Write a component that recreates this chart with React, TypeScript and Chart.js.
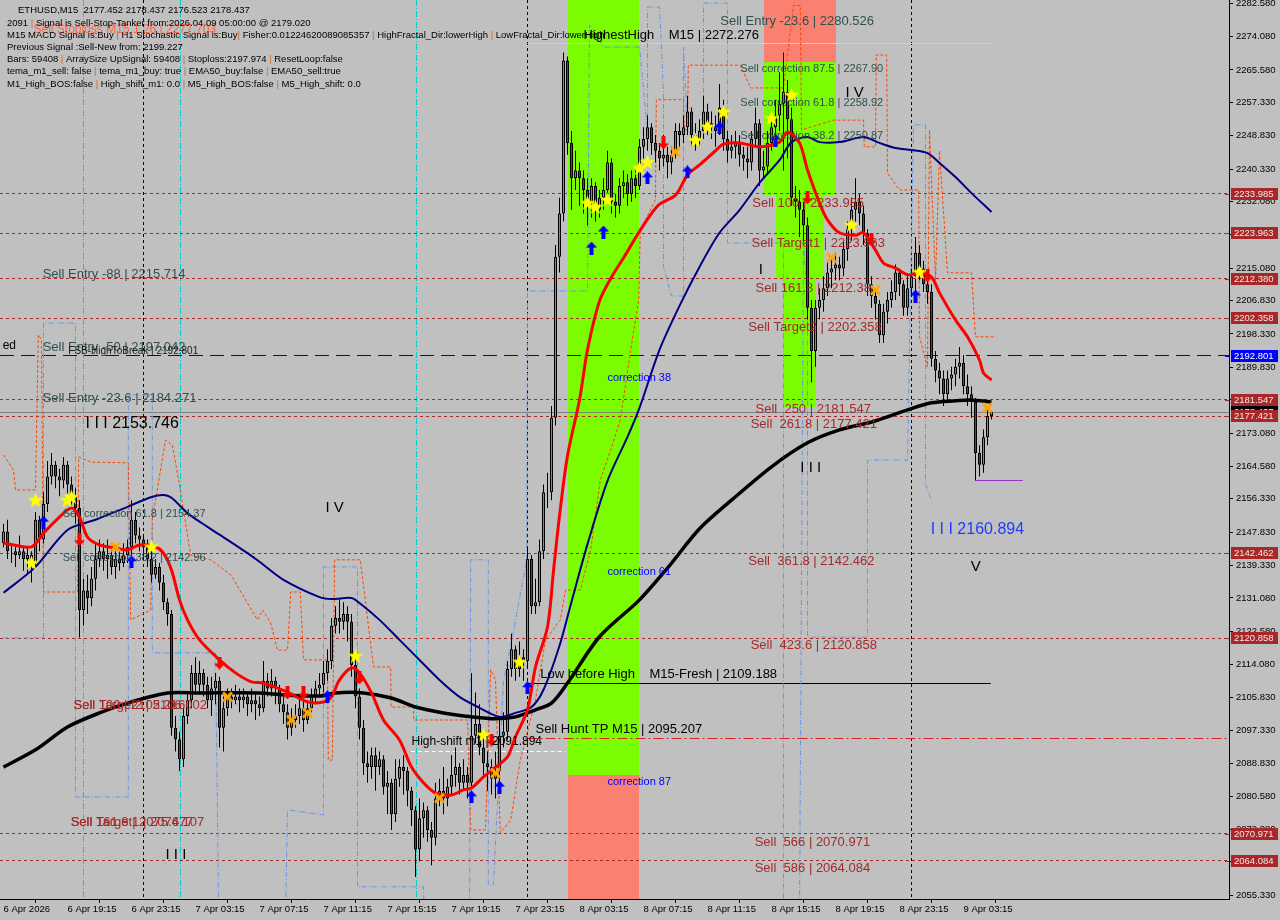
import React, { useEffect, useRef } from 'react';
import { Chart, registerables } from 'chart.js';

Chart.register(...registerables);

// ---------- DATA ----------
const timeLabels = ['6 Apr 2026', '6 Apr 19:15', '6 Apr 23:15', '7 Apr 03:15', '7 Apr 07:15', '7 Apr 11:15', '7 Apr 15:15', '7 Apr 19:15', '7 Apr 23:15', '8 Apr 03:15', '8 Apr 07:15', '8 Apr 11:15', '8 Apr 15:15', '8 Apr 19:15', '8 Apr 23:15', '9 Apr 03:15'];
const timeTickBars = [0, 16, 32, 48, 64, 80, 96, 112, 128, 144, 160, 176, 192, 208, 224, 240];
const priceTicks = [2282.58, 2274.08, 2265.58, 2257.33, 2248.83, 2240.33, 2232.08, 2223.58, 2215.08, 2206.83, 2198.33, 2189.83, 2181.58, 2173.08, 2164.58, 2156.33, 2147.83, 2139.33, 2131.08, 2122.58, 2114.08, 2105.83, 2097.33, 2088.83, 2080.58, 2072.08, 2063.83, 2055.33];

const firstOpen = 2145;
const closes = [
  2148, 2143, 2143, 2142, 2143, 2141, 2142, 2140, 2151, 2146,
  2155, 2162, 2165, 2162, 2161, 2165, 2160, 2157, 2154, 2128,
  2133, 2131, 2136, 2141, 2143, 2141, 2142, 2139, 2141, 2140,
  2142, 2144, 2151, 2147, 2146, 2144, 2141, 2137, 2139, 2135,
  2130, 2127, 2098, 2095, 2090, 2101, 2105, 2112, 2109, 2112,
  2109, 2105, 2108, 2110, 2098, 2103, 2106, 2105, 2106, 2105,
  2106, 2104, 2105, 2104, 2103, 2110, 2108, 2110, 2108, 2104,
  2102, 2098, 2100, 2101, 2103, 2100, 2103, 2106, 2108, 2109,
  2112, 2115, 2124, 2126, 2125, 2127, 2125, 2114, 2106, 2098,
  2089, 2088, 2091, 2088, 2090, 2083, 2084, 2076, 2085, 2088,
  2087, 2082, 2077, 2067, 2075, 2077, 2072, 2070, 2080, 2082,
  2080, 2083, 2086, 2088, 2084, 2086, 2084, 2096, 2099, 2093,
  2089, 2088, 2085, 2087, 2096, 2097, 2113, 2118, 2113, 2116,
  2115, 2141, 2129, 2130, 2143, 2158, 2158, 2177, 2218, 2229,
  2268, 2247, 2238, 2240, 2238, 2235, 2232, 2236, 2230, 2233,
  2235, 2242, 2232, 2231, 2236, 2237, 2234, 2238, 2236, 2246,
  2248, 2251, 2247, 2245, 2243, 2244, 2242, 2244, 2250, 2249,
  2251, 2255, 2249, 2248, 2250, 2255, 2252, 2251, 2250, 2256,
  2248, 2245, 2246, 2247, 2244, 2243, 2242, 2248, 2252, 2240,
  2241, 2247, 2251, 2254, 2257, 2260, 2253, 2233, 2232, 2230,
  2226, 2205, 2194, 2205, 2207, 2210, 2214, 2215, 2216, 2215,
  2220, 2225, 2230, 2232, 2229, 2224, 2211, 2208, 2206, 2198,
  2204, 2207, 2209, 2214, 2211, 2205, 2210, 2213, 2219, 2215,
  2211, 2209, 2192, 2189, 2187, 2183, 2187, 2188, 2190, 2191,
  2185, 2183, 2181, 2168, 2165, 2172, 2177.452, 2178.437
];
const highs = [
  2150, 2151, 2145, 2144, 2147, 2144, 2144, 2143, 2153, 2152,
  2158, 2166, 2168, 2166, 2164, 2167, 2166, 2162, 2159, 2156,
  2136, 2137, 2139, 2145, 2146, 2145, 2146, 2144, 2143, 2143,
  2145, 2146, 2156, 2153, 2149, 2147, 2146, 2143, 2141, 2140,
  2137, 2131, 2128, 2101, 2097, 2103, 2107, 2114, 2116, 2115,
  2113, 2111, 2111, 2112, 2111, 2106, 2108, 2108, 2109, 2108,
  2108, 2107, 2108, 2107, 2106, 2115, 2112, 2113, 2111, 2109,
  2106, 2104, 2103, 2104, 2106, 2105, 2105, 2108, 2110, 2112,
  2115, 2118, 2126, 2129, 2131, 2130, 2129, 2127, 2116, 2108,
  2100, 2092, 2093, 2093, 2092, 2091, 2087, 2085, 2090, 2090,
  2091, 2088, 2083, 2078, 2080, 2079, 2078, 2074, 2084, 2085,
  2088, 2085, 2091, 2093, 2089, 2090, 2088, 2112, 2107, 2104,
  2097, 2092, 2090, 2092, 2100, 2102, 2115, 2122, 2119, 2120,
  2118, 2144, 2142, 2136, 2146, 2160, 2163, 2180, 2221, 2233,
  2270, 2269, 2250, 2245, 2242, 2240, 2238, 2238, 2237, 2235,
  2238, 2245, 2243, 2234, 2238, 2240, 2239, 2240, 2240, 2248,
  2251, 2254, 2252, 2249, 2247, 2249, 2246, 2246, 2252, 2252,
  2254, 2259, 2256, 2252, 2253, 2259, 2257, 2255, 2254, 2262,
  2258, 2250, 2249, 2250, 2249, 2246, 2246, 2250, 2256, 2253,
  2245, 2250, 2254, 2258, 2265, 2270, 2263, 2256, 2236, 2235,
  2232, 2228, 2207, 2207, 2210, 2213, 2217, 2218, 2219, 2218,
  2222, 2227, 2233, 2238, 2234, 2231, 2225, 2213, 2210, 2207,
  2206, 2209, 2212, 2216, 2215, 2212, 2213, 2215, 2223, 2221,
  2217, 2213, 2211, 2194, 2191, 2189, 2189, 2190, 2192, 2195,
  2193, 2188, 2185, 2182, 2170, 2174, 2179, 2178.437
];
const lows = [
  2144, 2141, 2140, 2139, 2141, 2138, 2137, 2135, 2139, 2143,
  2145, 2153, 2160, 2159, 2157, 2159, 2157, 2154, 2150, 2121,
  2124, 2127, 2129, 2133, 2139, 2138, 2136, 2137, 2136, 2138,
  2139, 2140, 2142, 2145, 2143, 2141, 2139, 2135, 2136, 2133,
  2128, 2124, 2096, 2092, 2087, 2088, 2099, 2103, 2107, 2107,
  2106, 2103, 2101, 2104, 2093, 2092, 2101, 2103, 2104, 2102,
  2103, 2101, 2102, 2100, 2101, 2102, 2106, 2106, 2104, 2102,
  2099, 2095, 2096, 2098, 2099, 2097, 2099, 2102, 2104, 2106,
  2107, 2110, 2113, 2122, 2122, 2123, 2120, 2111, 2103, 2095,
  2086, 2084, 2085, 2082, 2086, 2081, 2076, 2072, 2074, 2083,
  2081, 2078, 2073, 2060, 2064, 2070, 2069, 2063, 2068, 2078,
  2076, 2078, 2081, 2083, 2081, 2082, 2080, 2083, 2094, 2091,
  2086, 2082, 2081, 2080, 2084, 2093, 2095, 2111, 2110, 2111,
  2110, 2113, 2127, 2127, 2129, 2141, 2154, 2156, 2175, 2214,
  2227, 2244, 2230, 2235, 2231, 2229, 2226, 2228, 2227, 2228,
  2230, 2233, 2229, 2228, 2229, 2233, 2231, 2232, 2233, 2235,
  2243, 2245, 2244, 2242, 2240, 2241, 2238, 2239, 2243, 2246,
  2247, 2249, 2246, 2245, 2246, 2248, 2249, 2248, 2246, 2249,
  2245, 2242, 2243, 2243, 2241, 2240, 2238, 2240, 2246, 2236,
  2238, 2239, 2245, 2249, 2250, 2240, 2243, 2231, 2228, 2223,
  2222, 2202, 2186, 2190, 2202, 2204, 2208, 2210, 2212, 2212,
  2213, 2217, 2222, 2227, 2226, 2221, 2208, 2205, 2202, 2196,
  2196, 2201, 2205, 2207, 2208, 2203, 2203, 2208, 2209, 2212,
  2209, 2206, 2190, 2186, 2183, 2180, 2181, 2184, 2185, 2187,
  2183, 2180, 2177, 2161, 2162, 2163, 2170, 2176.523
];

// indicator lines: [bar, price]
const emaFast = [[0, 2145.1], [7, 2144.1], [10, 2147.6], [14, 2151.7], [17, 2154.0], [19, 2151.7], [21, 2146.6], [24, 2144.6], [28, 2143.8], [31, 2143.3], [34, 2144.6], [38, 2144.1], [40, 2142.5], [42, 2138.2], [44, 2130.6], [46, 2125.5], [49, 2120.4], [54, 2115.3], [58, 2112.0], [62, 2109.7], [65, 2109.4], [71, 2107.1], [76, 2104.6], [80, 2104.6], [82, 2105.9], [84, 2110.2], [87, 2113.3], [89, 2112.0], [92, 2106.9], [95, 2100.0], [99, 2094.9], [102, 2088.0], [105, 2084.0], [108, 2081.4], [112, 2080.9], [115, 2082.2], [117, 2082.7], [120, 2085.5], [123, 2088.0], [126, 2090.6], [128, 2095.7], [131, 2102.6], [133, 2113.5], [136, 2123.7], [137.5, 2138.0], [139, 2152.0], [141, 2167.3], [144, 2181.5], [146, 2194.3], [149, 2206.7], [152, 2212.8], [155, 2217.7], [158, 2222.8], [161, 2227.6], [164, 2231.4], [168, 2233.7], [171, 2238.8], [174, 2241.4], [178, 2245.0], [180, 2246.7], [184, 2247.0], [189, 2246.0], [194, 2247.2], [196, 2249.8], [199, 2247.0], [201, 2240.1], [204, 2231.7], [206, 2227.4], [209, 2224.1], [213, 2223.5], [215, 2224.1], [218, 2219.7], [220, 2216.4], [223, 2215.1], [226, 2213.4], [229, 2213.9], [232, 2212.8], [234, 2208.8], [238, 2201.9], [241, 2197.6], [244, 2191.7], [245, 2188.4], [247, 2186.6]];
const emaMid = [[0, 2132.4], [8, 2139.0], [16, 2148.4], [23, 2151.0], [31, 2154.3], [37, 2156.8], [40, 2157.3], [42, 2156.6], [46, 2152.7], [51, 2149.2], [56, 2145.9], [61, 2142.5], [64, 2140.3], [70, 2135.7], [79, 2131.3], [82, 2130.8], [87, 2131.1], [89, 2129.8], [94, 2125.5], [99, 2120.4], [104, 2115.3], [109, 2110.2], [114, 2105.9], [119, 2103.1], [124, 2100.8], [128, 2101.8], [132, 2103.3], [135, 2107.7], [139, 2118.9], [142, 2130.1], [146, 2144.8], [151, 2160.9], [156, 2172.1], [159, 2179.5], [164, 2194.3], [169, 2205.5], [174, 2215.4], [179, 2224.1], [184, 2229.9], [189, 2236.8], [194, 2242.6], [197, 2247.2], [201, 2248.5], [204, 2247.2], [209, 2247.2], [215, 2248.5], [219, 2247.0], [223, 2245.7], [227, 2245.2], [231, 2244.4], [234, 2241.9], [238, 2238.3], [242, 2234.2], [247, 2229.4]];
const emaSlow = [[0, 2088.0], [8, 2092.4], [16, 2098.2], [24, 2101.8], [32, 2104.6], [41, 2106.9], [49, 2106.9], [64, 2106.9], [70, 2106.4], [79, 2106.1], [83, 2106.9], [90, 2106.9], [97, 2105.6], [103, 2103.3], [110, 2101.8], [117, 2100.8], [123, 2100.3], [128, 2100.8], [133, 2102.6], [137, 2104.3], [141, 2109.4], [149, 2121.2], [159, 2130.6], [166, 2138.7], [174, 2148.7], [182, 2156.0], [192, 2164.5], [201, 2170.6], [209, 2173.9], [217, 2175.9], [226, 2179.0], [232, 2180.8], [238, 2181.3], [242, 2181.5], [247, 2181.0]];
const orangeBand = [[0, 2167.5], [2.5, 2163.7], [3, 2158.6], [8, 2158.6], [8.7, 2198.1], [9.5, 2196.8], [10, 2132.6], [18.5, 2132.6], [18.8, 2167.0], [21.8, 2165.7], [31.2, 2165.5], [31.8, 2125.5], [36.8, 2128.0], [37.2, 2151.0], [40.5, 2171.3], [42.2, 2170.1], [43.8, 2161.1], [46.8, 2142.0], [51.8, 2140.8], [56.8, 2137.0], [63.5, 2125.5], [64.8, 2128.0], [66.8, 2124.7], [68.5, 2117.8], [71, 2117.8], [71.8, 2132.6], [74.2, 2132.6], [75, 2115.3], [81, 2115.3], [81.2, 2089.8], [82.2, 2089.8], [82.8, 2140.8], [89.2, 2140.8], [92.5, 2113.5], [96.8, 2113.5], [96.9, 2103.3], [102.5, 2103.3], [102.6, 2100.0], [116, 2100.0], [116.8, 2072.0], [120.5, 2072.0], [121.8, 2112.8], [123, 2110.2], [124.2, 2071.2], [126.8, 2074.5], [129.2, 2089.8], [133, 2105.1], [135.5, 2120.4], [139.2, 2125.5], [140.5, 2133.1], [144.2, 2133.1], [146.8, 2143.3], [149.2, 2161.1], [151.8, 2168.8], [154.2, 2176.4], [156.8, 2194.3], [158.8, 2207.0], [159.2, 2224.8], [163, 2232.5], [163.2, 2258.0], [170, 2258.0], [170.2, 2250.3], [171, 2250.3], [171.2, 2266.8], [184.2, 2266.8], [186.8, 2261.0], [195, 2261.0], [197.5, 2282.0], [199.2, 2282.0], [199.5, 2250.3], [207.5, 2252.8], [215, 2252.8], [215.2, 2246.0], [218, 2246.0], [218.2, 2269.4], [220.8, 2269.4], [221, 2239.3], [224, 2235.0], [228.8, 2235.0], [229, 2197.6], [231, 2189.9], [231.5, 2250.3], [233, 2212.0], [234, 2245.0], [236, 2213.9], [242, 2213.9], [243, 2197.6], [247.5, 2197.6]];
const blueBand = [[0, 2120.9], [10, 2120.9], [10, 2201.1], [18, 2201.1], [18, 2080.4], [31.2, 2080.4], [31.2, 2182.8], [37.2, 2182.8], [37.2, 2117.1], [53, 2117.1], [53.8, 2050], [70.5, 2050], [71, 2077.1], [80, 2075.8], [80, 2139.0], [88.5, 2139.0], [88.5, 2057.5], [105, 2057.5], [105.2, 2050], [116.5, 2050], [116.8, 2140.8], [121.2, 2140.8], [121.2, 2058], [122.5, 2058], [125, 2110], [127, 2120], [130.8, 2140.8], [131, 2209.3], [146, 2209.3], [146.5, 2277.0], [150, 2271.4], [159, 2271.4], [161, 2250.3], [161, 2281.6], [164, 2281.6], [165, 2260.0], [165, 2215.4], [167, 2208.0], [170, 2208.0], [170, 2271.4], [171, 2250.3], [175, 2250.3], [175, 2282.6], [181, 2282.6], [181, 2221.5], [195, 2221.5], [195, 2050], [199, 2050], [200, 2221.5], [201, 2208], [201, 2121.1], [216, 2121.1], [216, 2166.2], [226, 2166.2], [227.5, 2251.6], [230.5, 2251.6], [230.5, 2160], [232, 2156]];

// signal markers: [bar, price]
const starMarks = [[8, 2156.0], [7, 2140.0], [17, 2156.8], [16, 2156.0], [37, 2144.1], [88, 2116.3], [129, 2114.8], [120, 2096.2], [146, 2231.7], [148, 2230.7], [151, 2232.5], [159, 2240.6], [161, 2242.1], [173, 2247.7], [176, 2251.1], [180, 2254.9], [192, 2253.3], [197, 2259.2], [212, 2226.1], [229, 2214.1]];
const upArrowMarks = [[10, 2150.4], [32, 2140.3], [81, 2105.9], [117, 2080.4], [124, 2082.9], [131, 2108.2], [147, 2220.2], [150, 2224.3], [161, 2238.1], [171, 2239.6], [179, 2250.8], [193, 2247.7], [228, 2208.0]];
const downArrowMarks = [[19, 2145.9], [54, 2114.5], [71, 2106.9], [75, 2106.9], [89, 2110.7], [122, 2094.9], [165, 2247.0], [201, 2233.0], [217, 2222.3], [231, 2213.1]];
const crossMarks = [[28, 2144.1], [56, 2105.9], [72, 2100.0], [76, 2101.8], [109, 2080.1], [123, 2086.5], [168, 2244.7], [207, 2217.7], [218, 2209.5], [246, 2179.5]];

// horizontal levels
const sellLevels = [2233.985, 2223.963, 2212.380, 2202.358, 2181.547, 2177.421, 2142.462, 2120.858, 2070.971, 2064.084];
const fsbLevel = 2192.801;
const lastPrice = 2178.437;
const lowBeforeHigh = 2109.188;
const huntTP = 2095.207;
const highShift = 2091.894;
const highestHigh = 2272.276;
const wave3Level = 2160.894;
const daySeparators = [35, 131, 227];
const cyanMarkers = [20, 44.25, 103.25];

// ---------- STYLE / LAYOUT CONFIG ----------
const FONT = "'Liberation Sans', Arial, sans-serif";
const SLATE = '#2F4F4F';
const BROWN = '#A52A2A';
const zones = [
  { b0: 141, b1: 158.75, p0: 2086.0, p1: 2290, color: '#7CFC00' },
  { b0: 141, b1: 158.75, p0: 2050, p1: 2086.0, color: '#FA8072' },
  { b0: 190, b1: 208, p0: 2267.6, p1: 2290, color: '#FA8072' },
  { b0: 190, b1: 208, p0: 2233.7, p1: 2267.6, color: '#7CFC00' },
  { b0: 193, b1: 205, p0: 2212.1, p1: 2233.7, color: '#7CFC00' },
  { b0: 195, b1: 203, p0: 2179.7, p1: 2212.1, color: '#7CFC00' },
];
const texts = [
  { b: 7.5, p: 2275.8, t: 'Sell Stoploss M15 1.26 | 2277.703', c: '#FF6347', s: 12 },
  { b: 145, p: 2274.5, t: 'HighestHigh    M15 | 2272.276', c: '#000', s: 13 },
  { b: 179.2, p: 2278.0, t: 'Sell Entry -23.6 | 2280.526', c: SLATE, s: 13 },
  { b: 184.2, p: 2265.8, t: 'Sell correction 87.5 | 2267.90', c: SLATE, s: 11 },
  { b: 184.2, p: 2257.2, t: 'Sell correction 61.8 | 2258.92', c: SLATE, s: 11 },
  { b: 184.2, p: 2248.8, t: 'Sell correction 38.2 | 2250.87', c: SLATE, s: 11 },
  { b: 210.5, p: 2259.7, t: 'I V', c: '#000', s: 15 },
  { b: 187.2, p: 2231.7, t: 'Sell 100 | 2233.985', c: BROWN, s: 13 },
  { b: 187, p: 2221.5, t: 'Sell Target1 | 2223.963', c: BROWN, s: 13 },
  { b: 188.8, p: 2214.6, t: 'I', c: '#000', s: 15 },
  { b: 188, p: 2210.0, t: 'Sell 161.8 | 2212.38', c: BROWN, s: 13 },
  { b: 186.2, p: 2200.1, t: 'Sell Target2 | 2202.358', c: BROWN, s: 13 },
  { b: 188, p: 2179.2, t: 'Sell  250 | 2181.547', c: BROWN, s: 13 },
  { b: 186.8, p: 2175.2, t: 'Sell  261.8 | 2177.421', c: BROWN, s: 13 },
  { b: 199.2, p: 2164.2, t: 'I I I', c: '#000', s: 15 },
  { b: 231.8, p: 2148.4, t: 'I I I 2160.894', c: '#1E3CFF', s: 16 },
  { b: 241.8, p: 2139.0, t: 'V', c: '#000', s: 15 },
  { b: 186.2, p: 2140.3, t: 'Sell  361.8 | 2142.462', c: BROWN, s: 13 },
  { b: 186.8, p: 2118.9, t: 'Sell  423.6 | 2120.858', c: BROWN, s: 13 },
  { b: 187.8, p: 2068.9, t: 'Sell  566 | 2070.971', c: BROWN, s: 13 },
  { b: 187.8, p: 2062.1, t: 'Sell  586 | 2064.084', c: BROWN, s: 13 },
  { b: 134.2, p: 2111.7, t: 'Low before High    M15-Fresh | 2109.188', c: '#000', s: 13 },
  { b: 133, p: 2097.7, t: 'Sell Hunt TP M15 | 2095.207', c: '#000', s: 13 },
  { b: 102, p: 2094.4, t: 'High-shift m1 | 2091.894', c: '#000', s: 12 },
  { b: 151, p: 2187.1, t: 'correction 38', c: '#0000FF', s: 11 },
  { b: 151, p: 2137.7, t: 'correction 61', c: '#0000FF', s: 11 },
  { b: 151, p: 2084.3, t: 'correction 87', c: '#0000FF', s: 11 },
  { b: 9.8, p: 2213.4, t: 'Sell Entry -88 | 2215.714', c: SLATE, s: 13 },
  { b: 9.8, p: 2194.8, t: 'Sell Entry -50 | 2197.042', c: SLATE, s: 13 },
  { b: 16.2, p: 2194.0, t: 'FSB-HighToBreak | 2192.801', c: '#1a1a1a', s: 10 },
  { b: 9.8, p: 2182.0, t: 'Sell Entry -23.6 | 2184.271', c: SLATE, s: 13 },
  { b: -0.2, p: 2195.3, t: 'ed', c: '#000', s: 12 },
  { b: 20.5, p: 2175.4, t: 'I I I 2153.746', c: '#000', s: 16 },
  { b: 80.5, p: 2154.0, t: 'I V', c: '#000', s: 15 },
  { b: 14.8, p: 2152.5, t: 'Sell correction 61.8 | 2154.37', c: SLATE, s: 11 },
  { b: 14.8, p: 2141.3, t: 'Sell correction 38.2 | 2142.96', c: SLATE, s: 11 },
  { b: 17.5, p: 2103.6, t: 'Sell Target2 | 2106.002', c: BROWN, s: 13 },
  { b: 17.5, p: 2103.6, t: 'Sell 100 | 2105.216', c: BROWN, s: 13 },
  { b: 16.8, p: 2074.0, t: 'Sell Target1 | 2076.107', c: BROWN, s: 13 },
  { b: 16.8, p: 2074.0, t: 'Sell 161.8 | 2075.477', c: BROWN, s: 13 },
  { b: 40.5, p: 2065.6, t: 'I I I', c: '#000', s: 15 },
];
const headerTitle = 'ETHUSD,M15  2177.452 2178.437 2176.523 2178.437';
const infoLines = [
  '2091 | Signal is Sell-Stop-Tanker from:2026.04.09 05:00:00 @ 2179.020',
  'M15 MACD Signal is:Buy | H1 Stochastic Signal is:Buy| Fisher:0.01224620089085357 | HighFractal_Dir:lowerHigh | LowFractal_Dir:lowerHigh',
  'Previous Signal :Sell-New from: 2199.227',
  'Bars: 59408 | ArraySize UpSignal: 59408 | Stoploss:2197.974 | ResetLoop:false',
  'tema_m1_sell: false | tema_m1_buy: true | EMA50_buy:false | EMA50_sell:true',
  'M1_High_BOS:false | High_shift_m1: 0.0 | M5_High_BOS:false | M5_High_shift: 0.0',
];

// ---------- marker images ----------
function makeCanvas(w: number, h: number) {
  const c = document.createElement('canvas');
  c.width = w; c.height = h;
  return c;
}
function starImage() {
  const c = makeCanvas(17, 17);
  const g = c.getContext('2d')!;
  g.fillStyle = '#FFFF00';
  g.beginPath();
  for (let k = 0; k < 10; k++) {
    const r = k % 2 === 0 ? 8 : 3.3;
    const a = -Math.PI / 2 + (k * Math.PI) / 5;
    const x = 8.5 + r * Math.cos(a), y = 9 + r * Math.sin(a);
    if (k === 0) g.moveTo(x, y); else g.lineTo(x, y);
  }
  g.closePath();
  g.fill();
  return c;
}
function arrowImage(color: string, up: boolean) {
  const c = makeCanvas(11, 13);
  const g = c.getContext('2d')!;
  g.fillStyle = color;
  g.beginPath();
  const pts = [[5.5, 0], [11, 6], [7.5, 6], [7.5, 13], [3.5, 13], [3.5, 6], [0, 6]];
  pts.forEach(([x, y], k) => {
    const yy = up ? y : 13 - y;
    if (k === 0) g.moveTo(x, yy); else g.lineTo(x, yy);
  });
  g.closePath();
  g.fill();
  return c;
}
function crossImage() {
  const c = makeCanvas(13, 13);
  const g = c.getContext('2d')!;
  g.strokeStyle = '#FFA500';
  g.lineWidth = 3;
  g.beginPath();
  g.moveTo(2, 2); g.lineTo(11, 11);
  g.moveTo(11, 2); g.lineTo(2, 11);
  g.stroke();
  return c;
}

const toPts = (arr: number[][]) => arr.map(([b, p]) => ({ x: b, y: p }));

// ---------- overlay plugin ----------
const overlayPlugin = {
  id: 'mt4overlay',
  beforeDraw(chart: any) {
    const { ctx } = chart;
    ctx.save();
    ctx.fillStyle = '#C0C0C0';
    ctx.fillRect(0, 0, chart.width, chart.height);
    ctx.restore();
  },
  beforeDatasetsDraw(chart: any) {
    const { ctx, chartArea: a } = chart;
    const xs = chart.scales.x, ys = chart.scales.y;
    ctx.save();
    ctx.beginPath();
    ctx.rect(a.left, a.top, a.right - a.left, a.bottom - a.top);
    ctx.clip();
    zones.forEach((z) => {
      const x0 = Math.round(xs.getPixelForValue(z.b0));
      const x1 = Math.round(xs.getPixelForValue(z.b1));
      const y0 = Math.round(ys.getPixelForValue(z.p1));
      const y1 = Math.round(ys.getPixelForValue(z.p0));
      ctx.fillStyle = z.color;
      ctx.fillRect(x0, y0, x1 - x0, y1 - y0);
    });
    ctx.lineWidth = 1;
    const vline = (b: number, color: string, dash: number[]) => {
      const x = Math.floor(xs.getPixelForValue(b)) + 0.5;
      ctx.strokeStyle = color;
      ctx.setLineDash(dash);
      ctx.beginPath(); ctx.moveTo(x, a.top); ctx.lineTo(x, a.bottom); ctx.stroke();
    };
    const hline = (p: number, color: string, dash: number[], b0?: number, b1?: number, w = 1) => {
      const y = Math.floor(ys.getPixelForValue(p)) + 0.5;
      const x0 = b0 === undefined ? a.left : xs.getPixelForValue(b0);
      const x1 = b1 === undefined ? a.right : xs.getPixelForValue(b1);
      ctx.strokeStyle = color;
      ctx.lineWidth = w;
      ctx.setLineDash(dash);
      ctx.beginPath(); ctx.moveTo(x0, y); ctx.lineTo(x1, y); ctx.stroke();
    };
    daySeparators.forEach((b) => vline(b, '#000', [3, 3]));
    cyanMarkers.forEach((b) => vline(b, '#00CED1', [6, 2, 1, 2]));
    sellLevels.forEach((p) => hline(p, BROWN, [3, 3]));
    hline(lastPrice, '#808080', []);
    hline(fsbLevel, '#0000CD', [14, 7]);
    hline(highestHigh, '#ADFF2F', [], 131, 246.8);
    hline(lowBeforeHigh, '#000', [], 131, 246.8);
    hline(huntTP, '#E0201A', [10, 3, 2, 3], 131);
    hline(highShift, '#FFFFFF', [4, 3], 101.8, 140.5);
    hline(wave3Level, '#9932CC', [], 243, 254.8);
    ctx.restore();
  },
  afterDatasetsDraw(chart: any) {
    const { ctx, chartArea: a } = chart;
    const xs = chart.scales.x, ys = chart.scales.y;
    ctx.save();
    ctx.beginPath();
    ctx.rect(a.left, a.top, a.right - a.left, a.bottom - a.top);
    ctx.clip();
    ctx.textAlign = 'left';
    ctx.textBaseline = 'middle';
    texts.forEach((t) => {
      ctx.font = `${t.s}px ${FONT}`;
      ctx.fillStyle = t.c;
      ctx.fillText(t.t, xs.getPixelForValue(t.b), ys.getPixelForValue(t.p));
    });
    // header
    ctx.font = `9.5px ${FONT}`;
    ctx.fillStyle = '#000';
    ctx.fillText(headerTitle, 18, 10);
    infoLines.forEach((line, k) => {
      const y = 23 + k * 12.2;
      const parts = line.split('|');
      let cx = 7;
      parts.forEach((part, j) => {
        ctx.fillStyle = '#000';
        ctx.fillText(part, cx, y);
        cx += ctx.measureText(part).width;
        if (j < parts.length - 1) {
          ctx.fillStyle = '#D2691E';
          ctx.fillText('|', cx, y);
          cx += ctx.measureText('|').width;
        }
      });
    });
    ctx.restore();
  },
  afterDraw(chart: any) {
    const { ctx, chartArea: a } = chart;
    const ys = chart.scales.y;
    ctx.save();
    ctx.font = `9.5px ${FONT}`;
    ctx.textBaseline = 'middle';
    ctx.textAlign = 'left';
    const box = (p: number, bg: string, fg: string) => {
      const y = Math.round(ys.getPixelForValue(p));
      ctx.fillStyle = bg;
      ctx.fillRect(a.right + 2, y - 6, 47, 12);
      ctx.fillStyle = fg;
      ctx.fillText(p.toFixed(3), a.right + 5, y + 0.5);
      ctx.fillStyle = bg === '#000' ? '#808080' : bg;
      ctx.fillRect(a.right - 4, y, 4, 1);
    };
    box(lastPrice, '#000', '#FFFFFF');
    sellLevels.forEach((p) => box(p, '#A8282A', '#F4E6E6'));
    box(fsbLevel, '#0000FF', '#FFFFFF');
    ctx.restore();
  },
};

export default function App() {
  const ref = useRef<HTMLCanvasElement>(null);
  useEffect(() => {
    document.body.style.margin = '0';
    const canvas = ref.current;
    if (!canvas) return;
    const opens = closes.map((c, i) => (i === 0 ? firstOpen : closes[i - 1]));
    const bodyColors = closes.map((c, i) => (c >= opens[i] ? '#3CB371' : '#B22222'));
    const star = starImage();
    const upA = arrowImage('#0000FF', true);
    const dnA = arrowImage('#FF0000', false);
    const cross = crossImage();

    const markerSet = (data: number[][], img: any) => ({
      type: 'line', data: toPts(data), showLine: false, pointStyle: img, pointRadius: 5, order: 1,
    });

    const datasets: any[] = [
      { type: 'line', data: toPts(orangeBand), borderColor: '#FF4500', borderWidth: 1, borderDash: [3, 2], pointRadius: 0, tension: 0, order: 6 },
      { type: 'line', data: toPts(blueBand), borderColor: '#6495ED', borderWidth: 1, borderDash: [5, 2, 1, 2], pointRadius: 0, tension: 0, order: 6 },
      {
        type: 'bar', data: closes.map((c, i) => ({ x: i, y: [lows[i], highs[i]] })),
        backgroundColor: '#000', barThickness: 1, grouped: false, order: 5, inflateAmount: 0,
      },
      {
        type: 'bar', data: closes.map((c, i) => ({ x: i, y: [opens[i], c] })),
        backgroundColor: bodyColors, borderColor: '#000', borderWidth: 1, borderSkipped: false,
        barThickness: 3, grouped: false, order: 4, inflateAmount: 0,
      },
      { type: 'line', data: toPts(emaSlow), borderColor: '#000', borderWidth: 3.5, pointRadius: 0, tension: 0.3, order: 3 },
      { type: 'line', data: toPts(emaMid), borderColor: '#000080', borderWidth: 2, pointRadius: 0, tension: 0.3, order: 3 },
      { type: 'line', data: toPts(emaFast), borderColor: '#FF0000', borderWidth: 3, pointRadius: 0, tension: 0.3, order: 2 },
      markerSet(crossMarks, cross),
      markerSet(starMarks, star),
      markerSet(upArrowMarks, upA),
      markerSet(downArrowMarks, dnA),
    ];

    const tickFont = { family: "'Liberation Sans', Arial, sans-serif", size: 9.5 };
    const chart = new Chart(canvas, {
      type: 'bar',
      data: { datasets },
      options: {
        responsive: false,
        animation: false,
        devicePixelRatio: 1,
        events: [],
        layout: { padding: 0, autoPadding: false },
        plugins: { legend: { display: false }, tooltip: { enabled: false } },
        scales: {
          x: {
            type: 'linear', position: 'bottom', min: -0.875, max: 306.375, offset: false,
            afterBuildTicks: (s: any) => { s.ticks = timeTickBars.map((v) => ({ value: v })); },
            afterFit: (s: any) => { s.height = 21; s.paddingLeft = 0; s.paddingRight = 0; },
            ticks: {
              autoSkip: false, maxRotation: 0, minRotation: 0, align: 'start', padding: 1, color: '#000', font: tickFont,
              callback: (v: any) => { const k = timeTickBars.indexOf(Number(v)); return k >= 0 ? timeLabels[k] : ''; },
            },
            grid: { display: true, drawOnChartArea: false, drawTicks: true, tickLength: 4, color: '#000' },
            border: { display: true, color: '#000' },
          },
          y: {
            type: 'linear', position: 'right', min: 2054.4, max: 2283.4,
            afterBuildTicks: (s: any) => { s.ticks = priceTicks.map((v) => ({ value: v })); },
            afterFit: (s: any) => { s.width = 51; s.paddingTop = 0; s.paddingBottom = 0; },
            ticks: { autoSkip: false, padding: 3, color: '#000', font: tickFont, callback: (v: any) => Number(v).toFixed(3) },
            grid: { display: true, drawOnChartArea: false, drawTicks: true, tickLength: 4, color: '#000' },
            border: { display: true, color: '#000' },
          },
        },
      } as any,
      plugins: [overlayPlugin],
    } as any);
    return () => chart.destroy();
  }, []);

  return (
    <div style={{ position: 'absolute', left: 0, top: 0, width: 1280, height: 920, background: '#C0C0C0' }}>
      <canvas ref={ref} width={1280} height={920} style={{ display: 'block', width: 1280, height: 920 }} />
    </div>
  );
}
